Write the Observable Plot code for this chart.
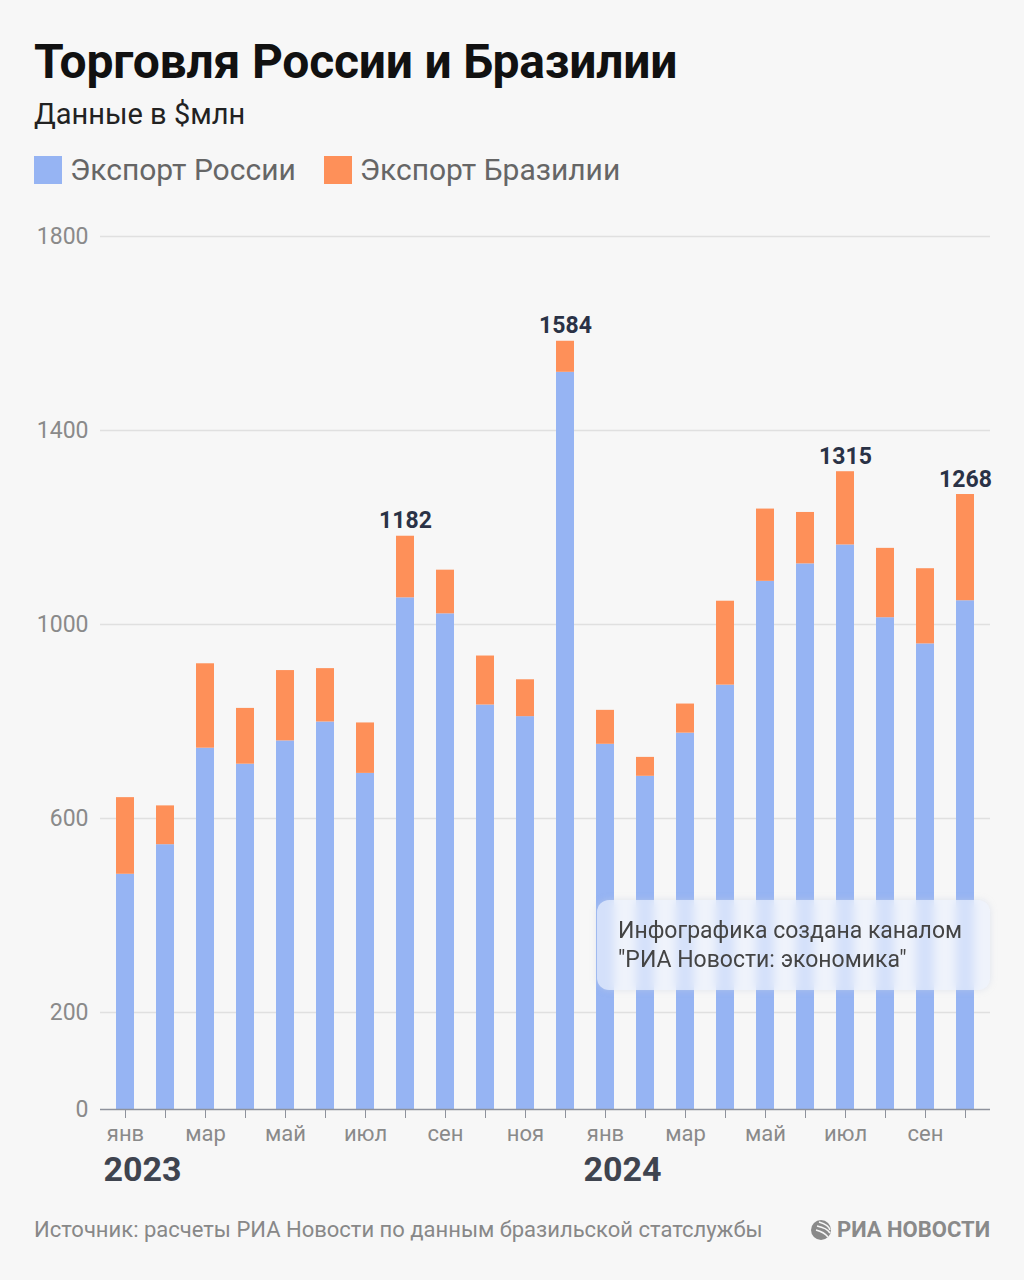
<!DOCTYPE html>
<html>
<head>
<meta charset="utf-8">
<script src="https://cdn.jsdelivr.net/npm/d3@7"></script>
<script src="https://cdn.jsdelivr.net/npm/@observablehq/plot@0.6"></script>
<style>
  html, body { margin: 0; padding: 0; }
  body { width: 1024px; height: 1280px; background: #f7f7f7; position: relative; overflow: hidden; font-family: Roboto, "Noto Sans", sans-serif; }
  .title { position: absolute; left: 34px; top: 33px; font-size: 48px; font-weight: 700; color: #111; letter-spacing: -0.2px; }
  .subtitle { position: absolute; left: 34px; top: 97px; font-size: 29px; color: #222; }
  .legend { position: absolute; left: 34px; top: 152px; display: flex; align-items: center; font-size: 30px; color: #666; }
  .legend .sw { width: 28px; height: 28px; margin-right: 8px; }
  .legend .item { display: flex; align-items: center; margin-right: 28px; }
  #chart { position: absolute; left: 0; top: 200px; }
  .note { position: absolute; left: 597px; top: 900px; width: 393px; height: 90px; border-radius: 12px;
          background: rgba(236, 241, 252, 0.72); backdrop-filter: blur(5px); -webkit-backdrop-filter: blur(5px);
          box-shadow: 0 0 6px rgba(200,210,230,0.5);
          box-sizing: border-box; padding: 16px 0 0 21px; font-size: 23px; line-height: 29px; color: #444; }
  .source { position: absolute; left: 34px; top: 1217px; font-size: 22px; color: #888; }
  .logo { position: absolute; left: 810px; top: 1217px; display: flex; align-items: center; font-size: 22px; font-weight: 700; color: #8a8a8a; }
  .logo svg { margin-right: 5px; }
</style>
</head>
<body>
<div class="title">Торговля России и Бразилии</div>
<div class="subtitle">Данные в $млн</div>
<div class="legend" id="legend"></div>
<div id="chart"></div>
<div class="note">Инфографика создана каналом<br>"РИА Новости: экономика"</div>
<div class="source">Источник: расчеты РИА Новости по данным бразильской статслужбы</div>
<div class="logo">
  <svg width="22" height="22" viewBox="0 0 22 22">
    <circle cx="11" cy="11" r="10" fill="#8a8a8a"/>
    <path d="M9 3 Q19 6 20 11 M7 7 Q17 9 20 14 M6 11 Q14 13 18 18" stroke="#f7f7f7" stroke-width="1.6" fill="none"/>
  </svg>
  РИА НОВОСТИ
</div>
<script>
// ---- data ----
const months = ["2023-01","2023-02","2023-03","2023-04","2023-05","2023-06","2023-07","2023-08","2023-09","2023-10","2023-11","2023-12",
                "2024-01","2024-02","2024-03","2024-04","2024-05","2024-06","2024-07","2024-08","2024-09","2024-10"];
const monthLabels = ["янв","фев","мар","апр","май","июн","июл","авг","сен","окт","ноя","дек",
                     "янв","фев","мар","апр","май","июн","июл","авг","сен","окт"];
const russiaExport = [485, 546, 745, 712, 760, 799, 693, 1055, 1022, 834, 810, 1520,
                      753, 687, 776, 875, 1089, 1125, 1164, 1014, 960, 1049];
const brazilExport = [158, 80, 174, 115, 145, 110, 104, 127, 90, 101, 76, 64,
                      70, 39, 60, 173, 149, 106, 151, 143, 155, 219];
const seriesNames = ["Экспорт России", "Экспорт Бразилии"];
const seriesColors = ["#96b4f3", "#fe9059"];
const labeledMonths = ["2023-08", "2023-12", "2024-07", "2024-10"];
const labeledValues = [1182, 1584, 1315, 1268];
const yTicks = [0, 200, 600, 1000, 1400, 1800];
const years = ["2023", "2024"];
const yearMonths = ["2023-01", "2024-01"];

// ---- legend ----
const legend = document.getElementById("legend");
seriesNames.forEach((n, i) => {
  const it = document.createElement("div");
  it.className = "item";
  it.innerHTML = `<div class="sw" style="background:${seriesColors[i]}"></div><span>${n}</span>`;
  legend.appendChild(it);
});

// ---- tables ----
const rows = [];
months.forEach((m, i) => {
  rows.push({month: m, series: seriesNames[0], value: russiaExport[i]});
  rows.push({month: m, series: seriesNames[1], value: brazilExport[i]});
});
const labels = labeledMonths.map((m, i) => ({month: m, value: labeledValues[i]}));
const labelTicks = months.filter((m, i) => i % 2 === 0);
const labelMap = new Map(months.map((m, i) => [m, monthLabels[i]]));
const yearRows = years.map((y, i) => ({month: yearMonths[i], year: y}));

const chart = Plot.plot({
  width: 1024,
  height: 1000,
  marginTop: 36,
  marginBottom: 91,
  marginLeft: 100,
  marginRight: 34,
  style: {background: "transparent", fontFamily: "Roboto, 'Noto Sans', sans-serif", overflow: "visible"},
  x: {type: "band", domain: months, paddingInner: 0.54, paddingOuter: 0.24, axis: null},
  y: {domain: [0, 1800], axis: null},
  color: {domain: seriesNames, range: seriesColors},
  marks: [
    Plot.gridY(yTicks.filter(d => d > 0), {stroke: "#e0e0e0", strokeOpacity: 1, strokeWidth: 1.5}),
    Plot.axisY(yTicks, {tickSize: 0, tickPadding: 12, tickFormat: d => String(d), fontSize: 23, fill: "#8a8a8a", label: null}),
    Plot.barY(rows, {x: "month", y: "value", fill: "series"}),
    Plot.ruleY([0], {stroke: "#8e929c", strokeWidth: 1.5}),
    Plot.axisX(months, {tickSize: 9, tickFormat: () => "", stroke: "#8e929c", label: null}),
    Plot.axisX(labelTicks, {tickSize: 0, tickPadding: 16, tickFormat: d => labelMap.get(d), fontSize: 22, fill: "#8a8a8a", label: null}),
    Plot.text(yearRows, {x: "month", text: "year", frameAnchor: "bottom", dy: 71, dx: -22, textAnchor: "start", fontSize: 34, fontWeight: 700, fill: "#3f444f"}),
    Plot.text(labels, {x: "month", y: "value", text: d => String(d.value), lineAnchor: "bottom", dy: -8, fontSize: 23, fontWeight: 700, fill: "#2a3246"})
  ]
});
document.getElementById("chart").appendChild(chart);
</script>
</body>
</html>
